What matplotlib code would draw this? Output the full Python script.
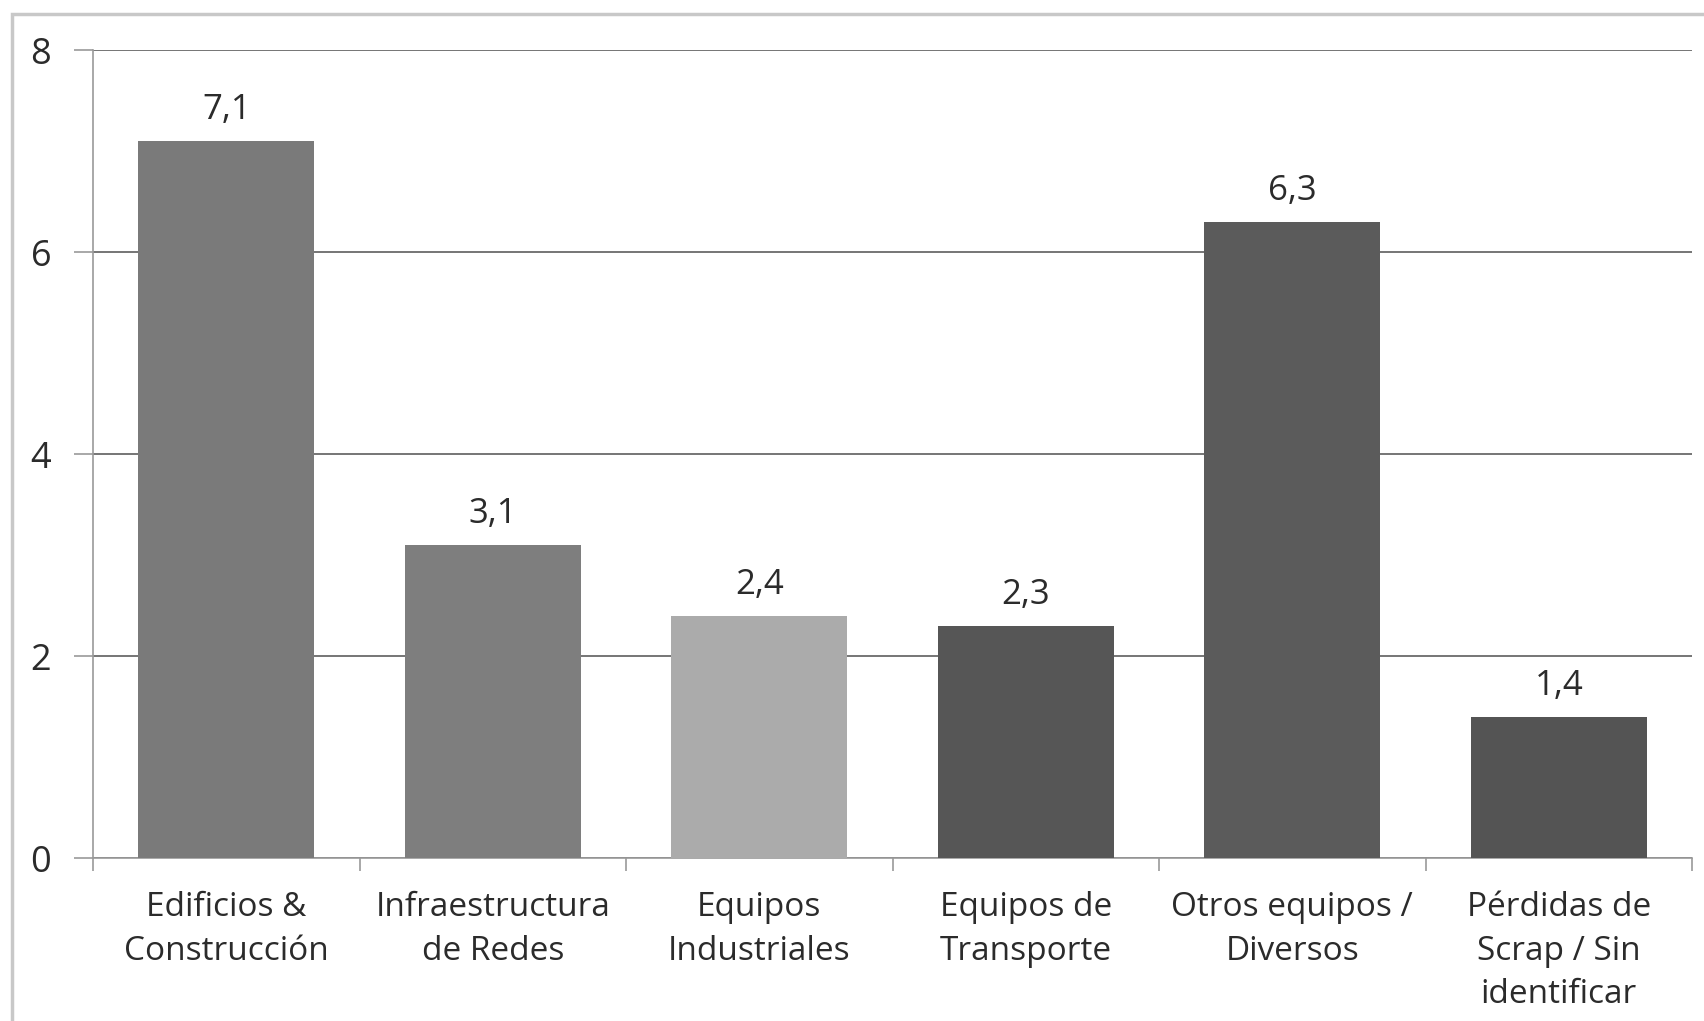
import numpy as np
import matplotlib
matplotlib.use("Agg")
import matplotlib.pyplot as plt
from matplotlib.patches import Rectangle
from matplotlib.ticker import FixedLocator

categories = ["Edificios &\nConstrucción", "Infraestructura\nde Redes", "Equipos\nIndustriales",
              "Equipos de\nTransporte", "Otros equipos /\nDiversos", "Pérdidas de\nScrap / Sin\nidentificar"]
values = [7.1, 3.1, 2.4, 2.3, 6.3, 1.4]
bar_colors = ["#7a7a7a", "#7e7e7e", "#ababab", "#565656", "#5b5b5b", "#545454"]
yticks = [0, 2, 4, 6, 8]

plt.rcParams["font.family"] = ["Open Sans", "DejaVu Sans"]

fig = plt.figure(figsize=(17.04, 10.21), dpi=100)
# light outer frame of the chart area
fig.patches.append(Rectangle((12 / 1704, -0.1), 1.2, (1021 - 14) / 1021 + 0.1,
                             transform=fig.transFigure, fill=False,
                             edgecolor="#c8c8c8", lw=2.5))

ax = fig.add_axes([93 / 1704, 1 - 858 / 1021, (1692 - 93) / 1704, (858 - 50) / 1021])
x = np.arange(len(values))
ax.bar(x, values, width=0.66, color=bar_colors, zorder=3)

for xi, v in zip(x, values):
    ax.annotate(f"{v:.1f}".replace(".", ","), (xi, v), xytext=(0, 10),
                textcoords="offset points", ha="center", va="bottom",
                fontsize=25, color="#2b2b2b")

ax.set_xlim(-0.5, len(values) - 0.5)
ax.set_ylim(0, 8)
ax.set_yticks(yticks)
ax.set_yticklabels([str(t) for t in yticks], fontsize=26, color="#2b2b2b")
ax.yaxis.grid(True, color="#5e5e5e", lw=1.2, zorder=0)
ax.tick_params(axis="y", length=14, width=1.2, color="#9a9a9a", pad=16)

ax.set_xticks(x)
ax.set_xticklabels(categories, fontsize=24, color="#2b2b2b", linespacing=1.42)
ax.tick_params(axis="x", which="major", length=0, pad=24)
ax.xaxis.set_minor_locator(FixedLocator(np.arange(-0.5, len(values), 1.0)))
ax.tick_params(axis="x", which="minor", length=9, width=1.2, color="#9a9a9a")

for s in ["top", "right"]:
    ax.spines[s].set_visible(False)
ax.spines["left"].set_color("#9a9a9a")
ax.spines["bottom"].set_color("#9a9a9a")
ax.spines["left"].set_linewidth(1.2)
ax.spines["bottom"].set_linewidth(1.2)

fig.savefig("out.png", dpi=100)
